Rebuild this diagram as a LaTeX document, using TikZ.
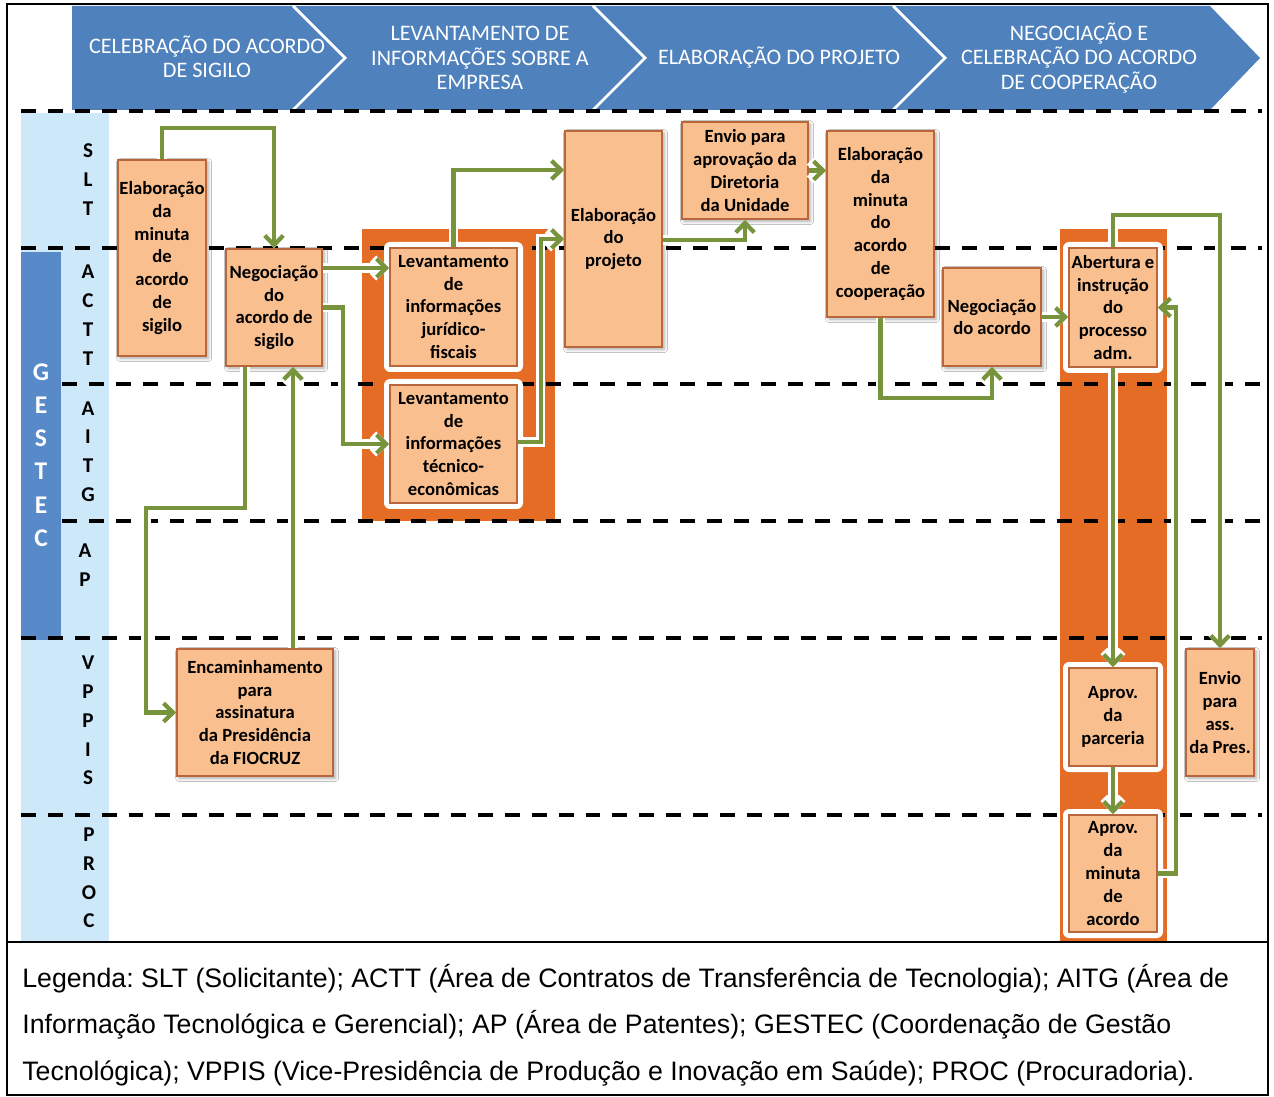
\documentclass[tikz,border=0pt]{standalone}
\usepackage{fontspec}
\setmainfont{Carlito}
\newfontfamily\legendfont{Liberation Sans}
\usetikzlibrary{arrows.meta,calc,shadows.blur}
\frenchspacing

\definecolor{hdrblue}{HTML}{4F81BD}
\definecolor{gesblue}{HTML}{5889C8}
\definecolor{lanebg}{HTML}{CDE8F9}
\definecolor{boxfill}{HTML}{F9BF8F}
\definecolor{boxline}{HTML}{B8673C}
\definecolor{grporange}{HTML}{E46C24}
\definecolor{flowgreen}{HTML}{77933C}

\begin{document}
\begin{tikzpicture}[x=0.02cm, y=-0.02cm,
  sz/.style 2 args={minimum width=#1*0.02cm, minimum height=#2*0.02cm},
  task/.style={draw=boxline, fill=boxfill, line width=0.9pt, inner sep=0pt,
    align=center, font=\bfseries\fontsize{10.6}{13}\selectfont},
  shadowed/.style={blur shadow={shadow xshift=1.2pt, shadow yshift=-1.2pt,
    shadow blur radius=2pt, shadow opacity=35}},
  glowbox/.style={fill=white, rounded corners=3.5pt},
  lanesep/.style={draw=black, line width=2pt, dash pattern=on 8.5pt off 6.8pt},
  flow/.style={draw=flowgreen, line width=2.4pt,
    -{Straight Barb[length=5.5pt,width=10.5pt]},
    preaction={draw=white, line width=5.2pt, -{Straight Barb[length=5.5pt,width=10.5pt]}}},
  lanelbl/.style={font=\bfseries\fontsize{12}{16.4}\selectfont, align=center, inner sep=0pt},
  header/.style={text=white, font=\fontsize{12.6}{13.9}\selectfont, align=center, inner sep=0pt},
]
\useasboundingbox (0,0) rectangle (1274,1097);
\fill[white] (0,0) rectangle (1274,1097);

% phase chevrons
\fill[hdrblue] (72,6) -- (293,6) -- (345,58) -- (293,110) -- (72,110) -- cycle;
\fill[hdrblue] (293,6) -- (593,6) -- (645,58) -- (593,110) -- (293,110) -- (345,58) -- cycle;
\fill[hdrblue] (593,6) -- (893,6) -- (945,58) -- (893,110) -- (593,110) -- (645,58) -- cycle;
\fill[hdrblue] (893,6) -- (1210,6) -- (1260,58) -- (1210,110) -- (893,110) -- (945,58) -- cycle;
\draw[white, line width=1.6pt] (293,6) -- (345,58) -- (293,110);
\draw[white, line width=1.6pt] (593,6) -- (645,58) -- (593,110);
\draw[white, line width=1.6pt] (893,6) -- (945,58) -- (893,110);
\node[header] (h1) at (207,57) {CELEBRAÇÃO DO ACORDO\\DE SIGILO};
\node[header] (h2) at (480,58) {LEVANTAMENTO DE\\INFORMAÇÕES SOBRE A\\EMPRESA};
\node[header] (h3) at (779,58) {ELABORAÇÃO DO PROJETO};
\node[header] (h4) at (1079,58) {NEGOCIAÇÃO E\\CELEBRAÇÃO DO ACORDO\\DE COOPERAÇÃO};

% lane header column
\fill[lanebg] (21,113) rectangle (109,941);
\fill[gesblue] (21,252) rectangle (61,640);
\node[text=white, font=\bfseries\fontsize{14.5}{18.9}\selectfont, align=center, inner sep=0pt]
  (gestec) at (41,455) {G\\E\\S\\T\\E\\C};
\node[lanelbl] (slt)   at (88,179.5) {S\\L\\T};
\node[lanelbl] (actt)  at (88,315)   {A\\C\\T\\T};
\node[lanelbl] (aitg)  at (88,451.5) {A\\I\\T\\G};
\node[lanelbl] (ap)    at (85,565.5) {A\\P};
\node[lanelbl] (vppis) at (88,720.5) {V\\P\\P\\I\\S};
\node[lanelbl] (proc)  at (89,878)   {P\\R\\O\\C};

% grouping panels
\fill[grporange] (362,229) rectangle (555,521);
\fill[grporange] (1060,229) rectangle (1167,942);

% lane separators
\draw[lanesep] (21,111) -- (1262,111);
\draw[lanesep] (21,248) -- (1262,248);
\draw[lanesep] (62,384) -- (1262,384);
\draw[lanesep] (62,521) -- (1262,521);
\draw[lanesep] (21,638) -- (1262,638);
\draw[lanesep] (21,815) -- (1262,815);

% white halos behind grouped tasks
\fill[glowbox] (384,242) rectangle (523,372);
\fill[glowbox] (384,379) rectangle (523,509);
\fill[glowbox] (1063,242) rectangle (1163,373);
\fill[glowbox] (1063,662) rectangle (1163,772);
\fill[glowbox] (1063,809) rectangle (1163,938);

% tasks
\node[task, shadowed, sz={88}{196}]  (b1)  at (162,258)    {Elaboração\\da\\minuta\\de\\acordo\\de\\sigilo};
\node[task, shadowed, sz={96}{117}]  (b2)  at (274,307.5)  {Negociação\\do\\acordo de\\sigilo};
\node[task, sz={127}{118}]           (b4)  at (453.5,307)  {Levantamento\\de\\informações\\jurídico-\\fiscais};
\node[task, sz={127}{118}]           (b5)  at (453.5,444)  {Levantamento\\de\\informações\\técnico-\\econômicas};
\node[task, shadowed, sz={97}{216}]  (b6)  at (613.5,239)  {Elaboração\\do\\projeto};
\node[task, shadowed, sz={126}{97}]  (b7)  at (745,170.5)  {Envio para\\aprovação da\\Diretoria\\da Unidade};
\node[task, shadowed, sz={107}{186}] (b8)  at (880.5,224)  {Elaboração\\da\\minuta\\do\\acordo\\de\\cooperação};
\node[task, shadowed, sz={98}{98}]   (b9)  at (992,317)    {Negociação\\do acordo};
\node[task, sz={88}{119}]            (b11) at (1113,307.5) {Abertura e\\instrução\\do\\processo\\adm.};
\node[task, sz={88}{98}]             (b12) at (1113,717)   {Aprov.\\da\\parceria};
\node[task, sz={88}{117}]            (b13) at (1113,873.5) {Aprov.\\da\\minuta\\de\\acordo};
\node[task, shadowed, sz={68}{127}]  (b14) at (1220,712.5) {Envio\\para\\ass.\\da Pres.};
\node[task, shadowed, sz={156}{127}] (b15) at (255,712.5)  {Encaminhamento\\para\\assinatura\\da Presidência\\da FIOCRUZ};

% flow connectors
\draw[flow] (b1.north) -- ++(0,-31) -| (b2.north);
\draw[flow] ($(b2.east)+(0,-39.5)$) -- ($(b4.west)+(0,-39)$);
\draw[flow] (b2.east) -- ++(20,0) |- (b5.west);
\draw[flow] ($(b2.south)+(-29,0)$) -- ++(0,141) -- ++(-99,0) |- (b15.west);
\draw[flow] ($(b15.north)+(38,0)$) -- ($(b2.south)+(19,0)$);
\draw[flow] (b4.north) |- ($(b6.west)+(0,-69)$);
\draw[flow] ($(b5.east)+(0,-2)$) -- ++(23,0) |- (b6.west);
\draw[flow] ($(b6.east)+(0,1)$) -| (b7.south);
\draw[flow] (b7.east) -- (b7.east -| b8.west);
\draw[flow] (b8.south) -- ++(0,80) -| (b9.south);
\draw[flow] (b9.east) -- (b9.east -| b11.west);
\draw[flow] (b11.north) -- ++(0,-32) -| (b14.north);
\draw[flow] (b11.south) -- (b12.north);
\draw[flow] (b12.south) -- (b13.north);
\draw[flow] (b13.east) -- ++(18,0) |- (b11.east);

% legend
\node[anchor=west, align=left, inner sep=0pt,
  font=\legendfont\fontsize{15.2}{26.4}\selectfont] (legend) at (22,1025)
  {Legenda: SLT (Solicitante); ACTT (Área de Contratos de Transferência de Tecnologia); AITG (Área de\\
   Informação Tecnológica e Gerencial); AP (Área de Patentes); GESTEC (Coordenação de Gestão\\
   Tecnológica); VPPIS (Vice-Presidência de Produção e Inovação em Saúde); PROC (Procuradoria).};

% frame
\draw[black, line width=1.4pt] (7,4) rectangle (1268,1095);
\draw[black, line width=1.4pt] (7,942) -- (1268,942);
\end{tikzpicture}
\end{document}
